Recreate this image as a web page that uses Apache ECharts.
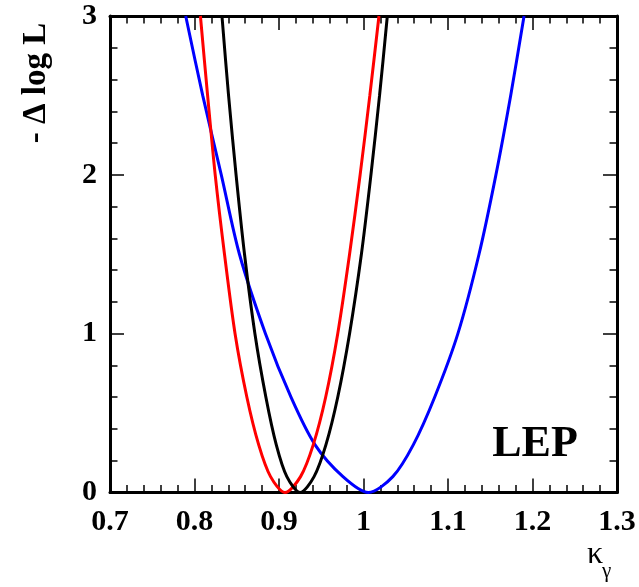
<!DOCTYPE html>
<html>
<head>
<meta charset="utf-8">
<script src="https://cdn.jsdelivr.net/npm/echarts@6/dist/echarts.min.js"></script>
<style>
  html, body { margin: 0; padding: 0; background: #fff; }
  #chart { width: 639px; height: 587px; }
</style>
</head>
<body>
<div id="chart"></div>
<script type="text/javascript">
// values (kappa_gamma, -delta log L)
const levels = [3, 2.5, 2, 1.5, 1, 0.6, 0.3, 0.1, 0, 0.1, 0.3, 0.6, 1, 1.5, 2, 2.5, 3];

const redX   = [0.807, 0.8155, 0.8245, 0.8355, 0.848, 0.862, 0.876, 0.890, 0.907, 0.9255, 0.9405, 0.9552, 0.9695, 0.9835, 0.996, 1.0075, 1.0183];
const blackX = [0.8325, 0.8403, 0.8492, 0.8592, 0.8715, 0.8845, 0.8968, 0.9093, 0.925, 0.9415, 0.9555, 0.9695, 0.9835, 0.9975, 1.0088, 1.019, 1.0282];
const blueX  = [0.7896, 0.8097, 0.8317, 0.8532, 0.884, 0.9142, 0.9427, 0.9757, 1.0057, 1.0347, 1.0589, 1.0842, 1.1117, 1.1367, 1.1567, 1.1742, 1.190];

const xTicks = [0.7, 0.8, 0.9, 1.0, 1.1, 1.2, 1.3];
const yTicks = [0, 1, 2, 3];

function pairs(xs, ys) {
  return xs.map((x, i) => [x, ys[i]]);
}

const serif = "'Liberation Serif', 'DejaVu Serif', serif";

const tickStyle = {
  axisLine: { show: true, onZero: false, lineStyle: { color: "#000", width: 3 } },
  axisTick: { show: true, inside: true, length: 14, lineStyle: { color: "#000", width: 1.5 } },
  minorTick: { show: true, splitNumber: 5, length: 7.5, lineStyle: { color: "#000", width: 1.5 } },
  splitLine: { show: false },
  minorSplitLine: { show: false }
};

function xAxis(position, showLabels) {
  return Object.assign({
    type: "value",
    position: position,
    min: xTicks[0],
    max: xTicks[xTicks.length - 1],
    interval: 0.1,
    axisLabel: {
      show: showLabels,
      margin: 15,
      color: "#000",
      fontFamily: serif,
      fontWeight: "bold",
      fontSize: 30,
      formatter: v => String(+v.toFixed(1))
    }
  }, tickStyle);
}

function yAxis(position, showLabels) {
  return Object.assign({
    type: "value",
    position: position,
    min: yTicks[0],
    max: yTicks[yTicks.length - 1],
    interval: 1,
    axisLabel: {
      show: showLabels,
      margin: 13,
      color: "#000",
      fontFamily: serif,
      fontWeight: "bold",
      fontSize: 30
    }
  }, tickStyle);
}

function curve(name, color, xs) {
  return {
    name: name,
    type: "line",
    data: pairs(xs, levels),
    xAxisIndex: 0,
    yAxisIndex: 0,
    smooth: 0.3,
    showSymbol: false,
    symbol: "none",
    lineStyle: { color: color, width: 3 },
    z: 3
  };
}

const chart = echarts.init(document.getElementById("chart"), null, { renderer: "canvas" });

chart.setOption({
  animation: false,
  backgroundColor: "#fff",
  grid: { left: 110, right: 22, top: 16, bottom: 94.5, containLabel: false },
  xAxis: [xAxis("bottom", true), xAxis("top", false)],
  yAxis: [yAxis("left", true), yAxis("right", false)],
  series: [
    curve("blue", "#0000ff", blueX),
    curve("red", "#ff0000", redX),
    curve("black", "#000000", blackX)
  ],
  graphic: [
    {
      type: "text",
      x: 36,
      y: 83,
      rotation: Math.PI / 2,
      style: {
        text: "- \u0394 log L",
        fill: "#000",
        font: "bold 33px " + serif,
        align: "center",
        verticalAlign: "middle"
      }
    },
    {
      type: "text",
      x: 535,
      y: 445,
      style: {
        text: "LEP",
        fill: "#000",
        font: "bold 44px " + serif,
        align: "center",
        verticalAlign: "middle"
      }
    },
    {
      type: "text",
      x: 587,
      y: 571,
      style: {
        text: "\u03ba",
        fill: "#000",
        font: "32px " + serif,
        align: "left",
        verticalAlign: "bottom"
      }
    },
    {
      type: "text",
      x: 602,
      y: 582,
      style: {
        text: "\u03b3",
        fill: "#000",
        font: "21px " + serif,
        align: "left",
        verticalAlign: "bottom"
      }
    }
  ]
});
</script>
</body>
</html>
